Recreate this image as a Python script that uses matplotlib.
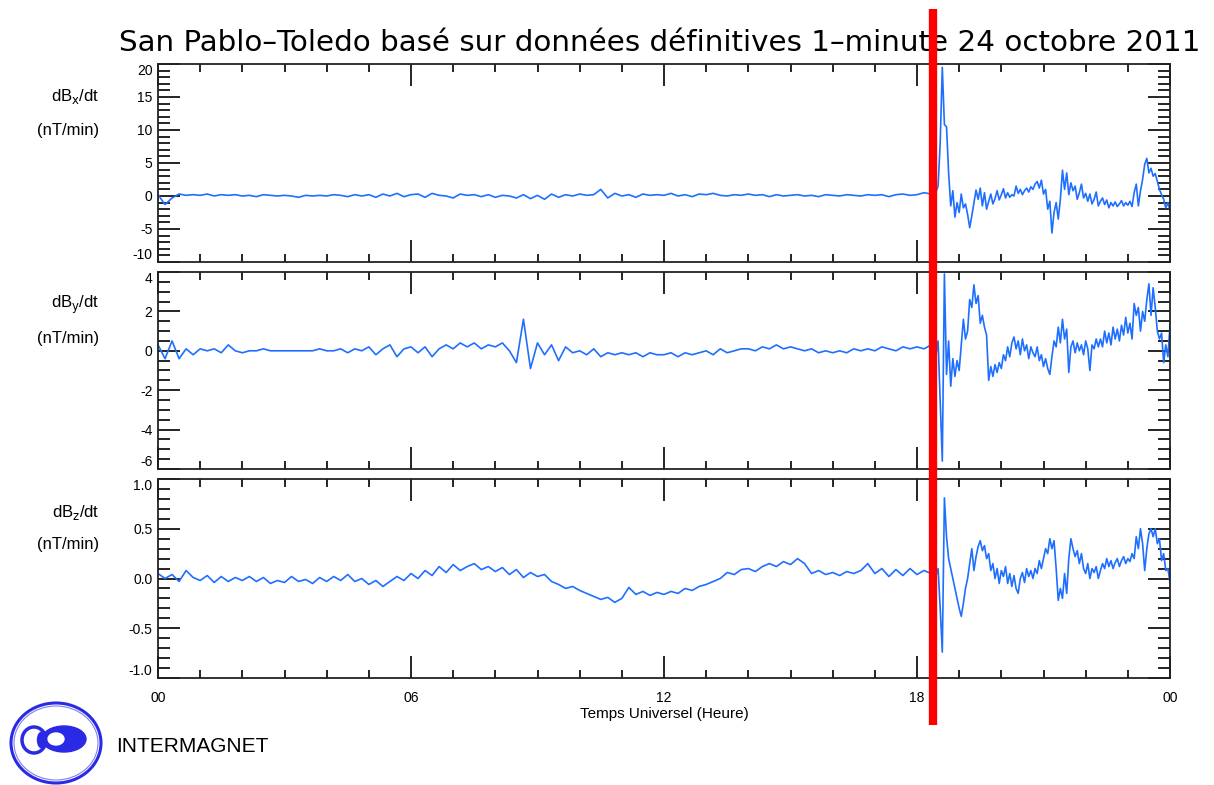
import numpy as np
import matplotlib
matplotlib.use("Agg")
import matplotlib.pyplot as plt
from matplotlib.lines import Line2D
from matplotlib.patches import Ellipse
from matplotlib.ticker import MultipleLocator

plt.rcParams['font.family'] = ['Liberation Sans', 'DejaVu Sans']

W, H = 1214, 785

title = "San Pablo\u2013Toledo basé sur données définitives 1\u2013minute 24 octobre 2011"
xtick_pos = [0, 6, 12, 18, 24]
xtick_labels = ["00", "06", "12", "18", "00"]
event_hour = 18.38

# 10-minute values 00:00-18:20, one row per hour
dbx_quiet = [
    0.2, -1.3, -0.3, 0.3, 0.1, 0.2,
    0.1, 0.3, 0.0, 0.2, 0.1, 0.2,
    0.0, 0.1, -0.1, 0.2, 0.1, 0.0,
    0.1, 0.0, -0.2, 0.1, 0.0, 0.1,
    0.0, 0.2, 0.1, -0.1, 0.2, 0.0,
    0.2, -0.2, 0.3, 0.0, 0.4, -0.1,
    0.2, 0.3, -0.2, 0.4, 0.1, 0.0,
    -0.3, 0.3, 0.1, 0.2, -0.1, 0.2,
    -0.2, 0.1, 0.0, -0.3, 0.2, -0.4,
    0.1, -0.5, 0.3, -0.2, 0.2, 0.0,
    0.3, 0.1, 0.2, 1.0, -0.3, 0.4,
    0.0, 0.2, -0.2, 0.3, 0.1, 0.2,
    0.1, 0.4, 0.0, 0.2, -0.1, 0.3,
    0.2, 0.4, 0.1, 0.0, 0.2, 0.1,
    0.3, 0.1, 0.2, -0.1, 0.2, 0.0,
    0.1, 0.2, 0.0, 0.1, -0.1, 0.2,
    0.1, 0.0, 0.2, 0.1, 0.0, 0.2,
    0.1, 0.2, -0.1, 0.2, 0.3, 0.1,
    0.2, 0.5, 0.3,
]
dby_quiet = [
    0.3, -0.4, 0.5, -0.4, 0.1, -0.2,
    0.1, 0.0, 0.1, -0.1, 0.3, 0.0,
    -0.1, 0.0, 0.0, 0.1, 0.0, 0.0,
    0.0, 0.0, 0.0, 0.0, 0.0, 0.1,
    0.0, 0.0, 0.1, -0.1, 0.1, 0.0,
    0.2, -0.2, 0.1, 0.3, -0.3, 0.1,
    0.2, -0.1, 0.2, -0.3, 0.1, 0.3,
    0.1, 0.4, 0.2, 0.4, 0.1, 0.3,
    0.2, 0.4, 0.0, -0.6, 1.6, -0.9,
    0.4, -0.2, 0.3, -0.5, 0.2, -0.1,
    0.0, -0.2, 0.1, -0.3, -0.1, -0.2,
    -0.1, -0.2, -0.1, -0.3, -0.1, -0.2,
    -0.2, -0.1, -0.3, -0.1, -0.2, -0.1,
    0.0, -0.2, 0.1, -0.1, 0.0, 0.1,
    0.1, 0.0, 0.2, 0.1, 0.3, 0.1,
    0.2, 0.1, 0.0, 0.1, -0.1, 0.0,
    -0.1, 0.0, -0.1, 0.1, 0.0, 0.1,
    0.0, 0.2, 0.1, 0.0, 0.2, 0.1,
    0.2, 0.1, 0.3,
]
dbz_quiet = [
    0.05, 0.0, 0.04, -0.03, 0.08, 0.01,
    -0.02, 0.03, -0.04, 0.02, -0.03, 0.01,
    -0.02, 0.02, -0.03, 0.01, -0.05, -0.02,
    -0.04, 0.02, -0.03, -0.01, -0.05, 0.01,
    -0.03, 0.02, -0.02, 0.04, -0.03, 0.0,
    -0.06, -0.02, -0.08, -0.03, 0.02, -0.02,
    0.05, 0.0, 0.08, 0.03, 0.12, 0.06,
    0.14, 0.08, 0.12, 0.15, 0.09, 0.12,
    0.07, 0.11, 0.04, 0.09, 0.01, 0.06,
    0.02, 0.04, -0.03, -0.06, -0.1, -0.08,
    -0.12, -0.15, -0.18, -0.21, -0.19, -0.24,
    -0.2, -0.09, -0.16, -0.13, -0.17, -0.14,
    -0.16, -0.13, -0.15, -0.1, -0.12, -0.08,
    -0.06, -0.03, 0.0, 0.06, 0.04, 0.09,
    0.1, 0.07, 0.12, 0.15, 0.12, 0.17,
    0.14, 0.2, 0.15, 0.05, 0.08, 0.04,
    0.06, 0.03, 0.07, 0.05, 0.08, 0.15,
    0.05, 0.1, 0.02, 0.09, 0.03, 0.1,
    0.04, 0.08, 0.05,
]

# 3-minute values 18:21-24:00 (storm sudden commencement onwards), 20 per hour
dbx_storm = [
    0.4, 0.2, 0.6, 1.5, 8.0, 19.5, 10.8, 10.5, 3.5, -1.5,
    0.8, -3.2, -1.0, -2.5, 0.3, -1.8, -1.2, -2.8, -4.8, -3.0,
    -1.0, 0.9, -0.5, 1.2, -1.5, 0.5, -2.0, -0.8, 0.3, -1.2,
    -0.4, 0.8, -0.6, 0.2, 1.1, -0.3, 0.5, -0.2, 0.2, 0.0,
    1.5, 0.4, 1.0, 0.2, 0.8, 1.2, 0.6, 1.4, 1.0, 1.8,
    2.2, 1.2, 2.4, 0.3, 1.0, -2.0, -0.8, -5.6, -2.5, -1.0,
    -3.5, -0.5, 3.9, 1.0, 3.5, 0.2, 2.0, 0.8, 1.5, -0.5,
    0.5, 1.8, -0.3, 0.4, -0.8, 0.3, -1.2, -0.5, 0.6, -1.5,
    -0.8, -0.3, -1.3, -0.6, -1.8, -1.0, -1.5, -0.9, -1.6, -1.2,
    -0.7, -1.5, -1.0, -1.4, -0.8, -1.6, 0.5, 1.8, -1.5, 0.8,
    2.5, 4.8, 5.7, 3.5, 4.2, 3.0, 3.4, 2.2, 1.0, 0.2,
    -0.5, -1.8, -1.0, -2.2,
]
dby_storm = [
    0.1, 0.3, -0.2, 0.5, -2.5, -5.6, 3.9, -1.2, 0.5, -1.8,
    -0.4, -1.3, -0.5, -1.0, 0.3, 1.6, 0.6, 1.0, 2.6, 2.2,
    3.35, 2.4, 2.8, 1.4, 1.8, 1.2, 0.8, -1.5, -0.8, -1.3,
    -0.7, -1.1, -0.6, -0.9, -0.2, -0.5, 0.2, -0.3, 0.4, 0.7,
    0.1, 0.5, -0.2, 0.6, 0.0, 0.3, -0.4, 0.2, -0.1, -0.3,
    0.2, -0.5, -0.2, -0.8, -0.4, -0.9, -1.2, -0.3, 0.5, 0.2,
    1.2, 0.4, 1.6, 0.6, 1.1, -1.1, 0.2, 0.5, -0.1, 0.4,
    0.0, 0.3, -0.2, 0.5, 0.1, -1.0, 0.3, 0.1, 0.6, 0.2,
    0.6, 0.2, 1.0, 0.4, 0.9, 0.3, 1.2, 0.6, 1.1, 0.5,
    1.3, 0.8, 1.7, 0.9, 1.4, 0.6, 2.4, 1.8, 2.2, 1.0,
    2.0, 1.5, 2.6, 3.4, 1.8, 3.2, 2.2, 1.0, 0.6, 0.9,
    -0.6, 0.3, -0.3, 1.3,
]
dbz_storm = [
    0.05, 0.1, 0.03, 0.1, -0.3, -0.74, 0.81, 0.42, 0.2, 0.1,
    0.0, -0.1, -0.2, -0.3, -0.38, -0.25, -0.1, 0.0, 0.15, 0.3,
    0.08, 0.22, 0.32, 0.38, 0.28, 0.33, 0.2, 0.25, 0.08, 0.15,
    0.0, 0.1, -0.05, 0.08, 0.02, 0.12, -0.05, 0.05, -0.08, 0.03,
    -0.1, -0.15, 0.0, 0.06, -0.04, 0.1, 0.02, 0.08, 0.0, 0.1,
    0.05, 0.18, 0.1, 0.2, 0.3, 0.25, 0.4, 0.3, 0.38, 0.1,
    -0.22, -0.1, -0.2, 0.05, -0.15, 0.2, 0.4, 0.3, 0.22, 0.28,
    0.15, 0.25, 0.1, 0.05, 0.15, 0.0, 0.1, 0.06, 0.12, 0.0,
    0.08, 0.15, 0.1, 0.2, 0.12, 0.18, 0.1, 0.16, 0.2, 0.12,
    0.18, 0.22, 0.15, 0.2, 0.17, 0.25, 0.2, 0.42, 0.3, 0.5,
    0.35, 0.08, 0.3, 0.45, 0.5, 0.42, 0.5, 0.35, 0.4, 0.18,
    0.25, 0.08, 0.1, -0.04,
]

t_quiet = np.arange(len(dbx_quiet)) / 6.0
t_storm = 18.35 + 0.05 * np.arange(len(dbx_storm))
t = np.concatenate([t_quiet, t_storm])

panels = [
    ("x", dbx_quiet + dbx_storm, (-10, 20), 5, 1, "%d"),
    ("y", dby_quiet + dby_storm, (-6, 4), 2, 0.5, "%d"),
    ("z", dbz_quiet + dbz_storm, (-1, 1), 0.5, 0.1, "%.1f"),
]
# pixel boxes (top, bottom) of the three panels
boxes = [(64, 262), (272, 469), (479, 678)]
left, right = 158, 1170

fig = plt.figure(figsize=(W / 100, H / 100), dpi=100)
blue = "#1f6fff"
axes = []
for (comp, vals, ylim, major, minor, fmt), (top, bot) in zip(panels, boxes):
    ax = fig.add_axes([left / W, 1 - bot / H, (right - left) / W, (bot - top) / H])
    ax.plot(t, vals, color=blue, lw=1.2)
    ax.set_xlim(0, 24)
    ax.set_ylim(*ylim)
    ax.set_xticks(xtick_pos)
    ax.xaxis.set_minor_locator(MultipleLocator(1))
    ax.set_yticks(np.arange(ylim[0], ylim[1] + major / 2, major))
    ax.yaxis.set_minor_locator(MultipleLocator(minor))
    ax.yaxis.set_major_formatter(matplotlib.ticker.FormatStrFormatter(fmt))
    ax.tick_params(axis="x", which="major", direction="in", top=True, length=16, width=1.2,
                   labelsize=10, pad=9)
    ax.tick_params(axis="x", which="minor", direction="in", top=True, length=6, width=1.2)
    ax.tick_params(axis="y", which="major", direction="in", right=True, length=16, width=1.2,
                   labelsize=10, pad=4)
    ax.tick_params(axis="y", which="minor", direction="in", right=True, length=8.5, width=1.2)
    for s in ax.spines.values():
        s.set_linewidth(1.3)
        s.set_color("#222222")
    ax.set_xticklabels(xtick_labels)
    if comp != "z":
        ax.tick_params(axis="x", labelbottom=False)
    fig.text(99 / W, 1 - (top + 33) / H, r"dB$_{\mathrm{%s}}$/dt" % comp, ha="right",
             va="center", fontsize=12)
    fig.text(99 / W, 1 - (top + 66) / H, "(nT/min)", ha="right", va="center", fontsize=12)
    axes.append(ax)

axes[-1].set_xlabel("Temps Universel (Heure)", fontsize=11, labelpad=2)
fig.text(660 / W, 1 - 43 / H, title, ha="center", va="center", fontsize=21.2,
         family="DejaVu Sans")

# keep the end labels of each y axis inside their panel
fig.canvas.draw()
for ax in axes:
    ticks = ax.yaxis.get_major_ticks()
    ticks[0].label1.set_verticalalignment("bottom")
    ticks[-1].label1.set_verticalalignment("top")

# red marker at the storm onset, spanning all panels
xe = fig.transFigure.inverted().transform(axes[0].transData.transform((event_hour, 0)))[0]
fig.add_artist(Line2D([xe, xe], [1 - 9 / H, 1 - 725 / H], color="red", lw=6,
                      transform=fig.transFigure, zorder=10, solid_capstyle="butt"))

# INTERMAGNET logo
logo = fig.add_axes([0, 0, 1, 1], zorder=-1)
logo.set_xlim(0, W)
logo.set_ylim(H, 0)
logo.axis("off")
lb = "#2a2ae6"
logo.add_patch(Ellipse((56, 743), 90, 80, fill=False, ec=lb, lw=2.2))
logo.add_patch(Ellipse((56, 743), 84, 74, fill=False, ec=lb, lw=0.8, alpha=0.6))
logo.add_patch(Ellipse((34, 740), 24, 26, fill=False, ec=lb, lw=2.5))
logo.add_patch(Ellipse((64, 739), 44, 26, fc=lb, ec=lb))
logo.add_patch(Ellipse((56, 739), 16, 12, fc="white", ec="white"))
logo.add_patch(Ellipse((42, 740), 9, 16, fc=lb, ec=lb))
fig.text(116 / W, 1 - 746 / H, "INTERMAGNET", ha="left", va="center", fontsize=15)

fig.savefig("out.png", dpi=100)
